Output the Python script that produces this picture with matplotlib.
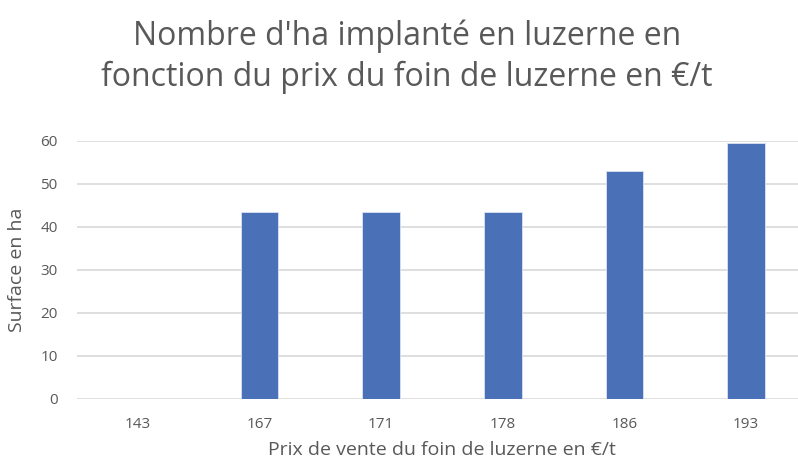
import matplotlib
matplotlib.use("Agg")
import matplotlib.pyplot as plt

# Data
prix = ["143", "167", "171", "178", "186", "193"]
surface = [0, 43.5, 43.5, 43.5, 53, 59.5]

plt.rcParams['font.family'] = ['Open Sans', 'DejaVu Sans']
grey = '#595959'

fig = plt.figure(figsize=(7.98, 4.65), dpi=100)
ax = fig.add_axes([77 / 798, 0.1426, 730 / 798, 0.5548])

x = range(len(prix))
ax.bar(x, surface, width=0.31, color='#4A70B7', edgecolor='#DCE3F2', linewidth=0.6, zorder=3)

ax.set_xlim(-0.5, len(prix) - 0.5)
ax.set_ylim(0, 60)
ax.set_yticks(range(0, 61, 10))
ax.set_xticks(list(x))
ax.set_xticklabels(prix)
ax.grid(axis='y', color='#D9D9D9', linewidth=1.2, zorder=0)
for s in ax.spines.values():
    s.set_visible(False)
ax.tick_params(length=0, colors=grey, labelsize=11)
ax.tick_params(axis='x', pad=13)
ax.tick_params(axis='y', pad=14)

ax.set_xlabel("Prix de vente du foin de luzerne en €/t", fontsize=14, color=grey, labelpad=7)
ax.set_ylabel("Surface en ha", fontsize=14, color=grey, labelpad=10)

fig.text(407 / 798, 1 - 57 / 465, "Nombre d'ha implanté en luzerne en\nfonction du prix du foin de luzerne en €/t",
         ha='center', va='center', fontsize=23, color=grey, linespacing=1.3)

fig.savefig("out.png", dpi=100)
